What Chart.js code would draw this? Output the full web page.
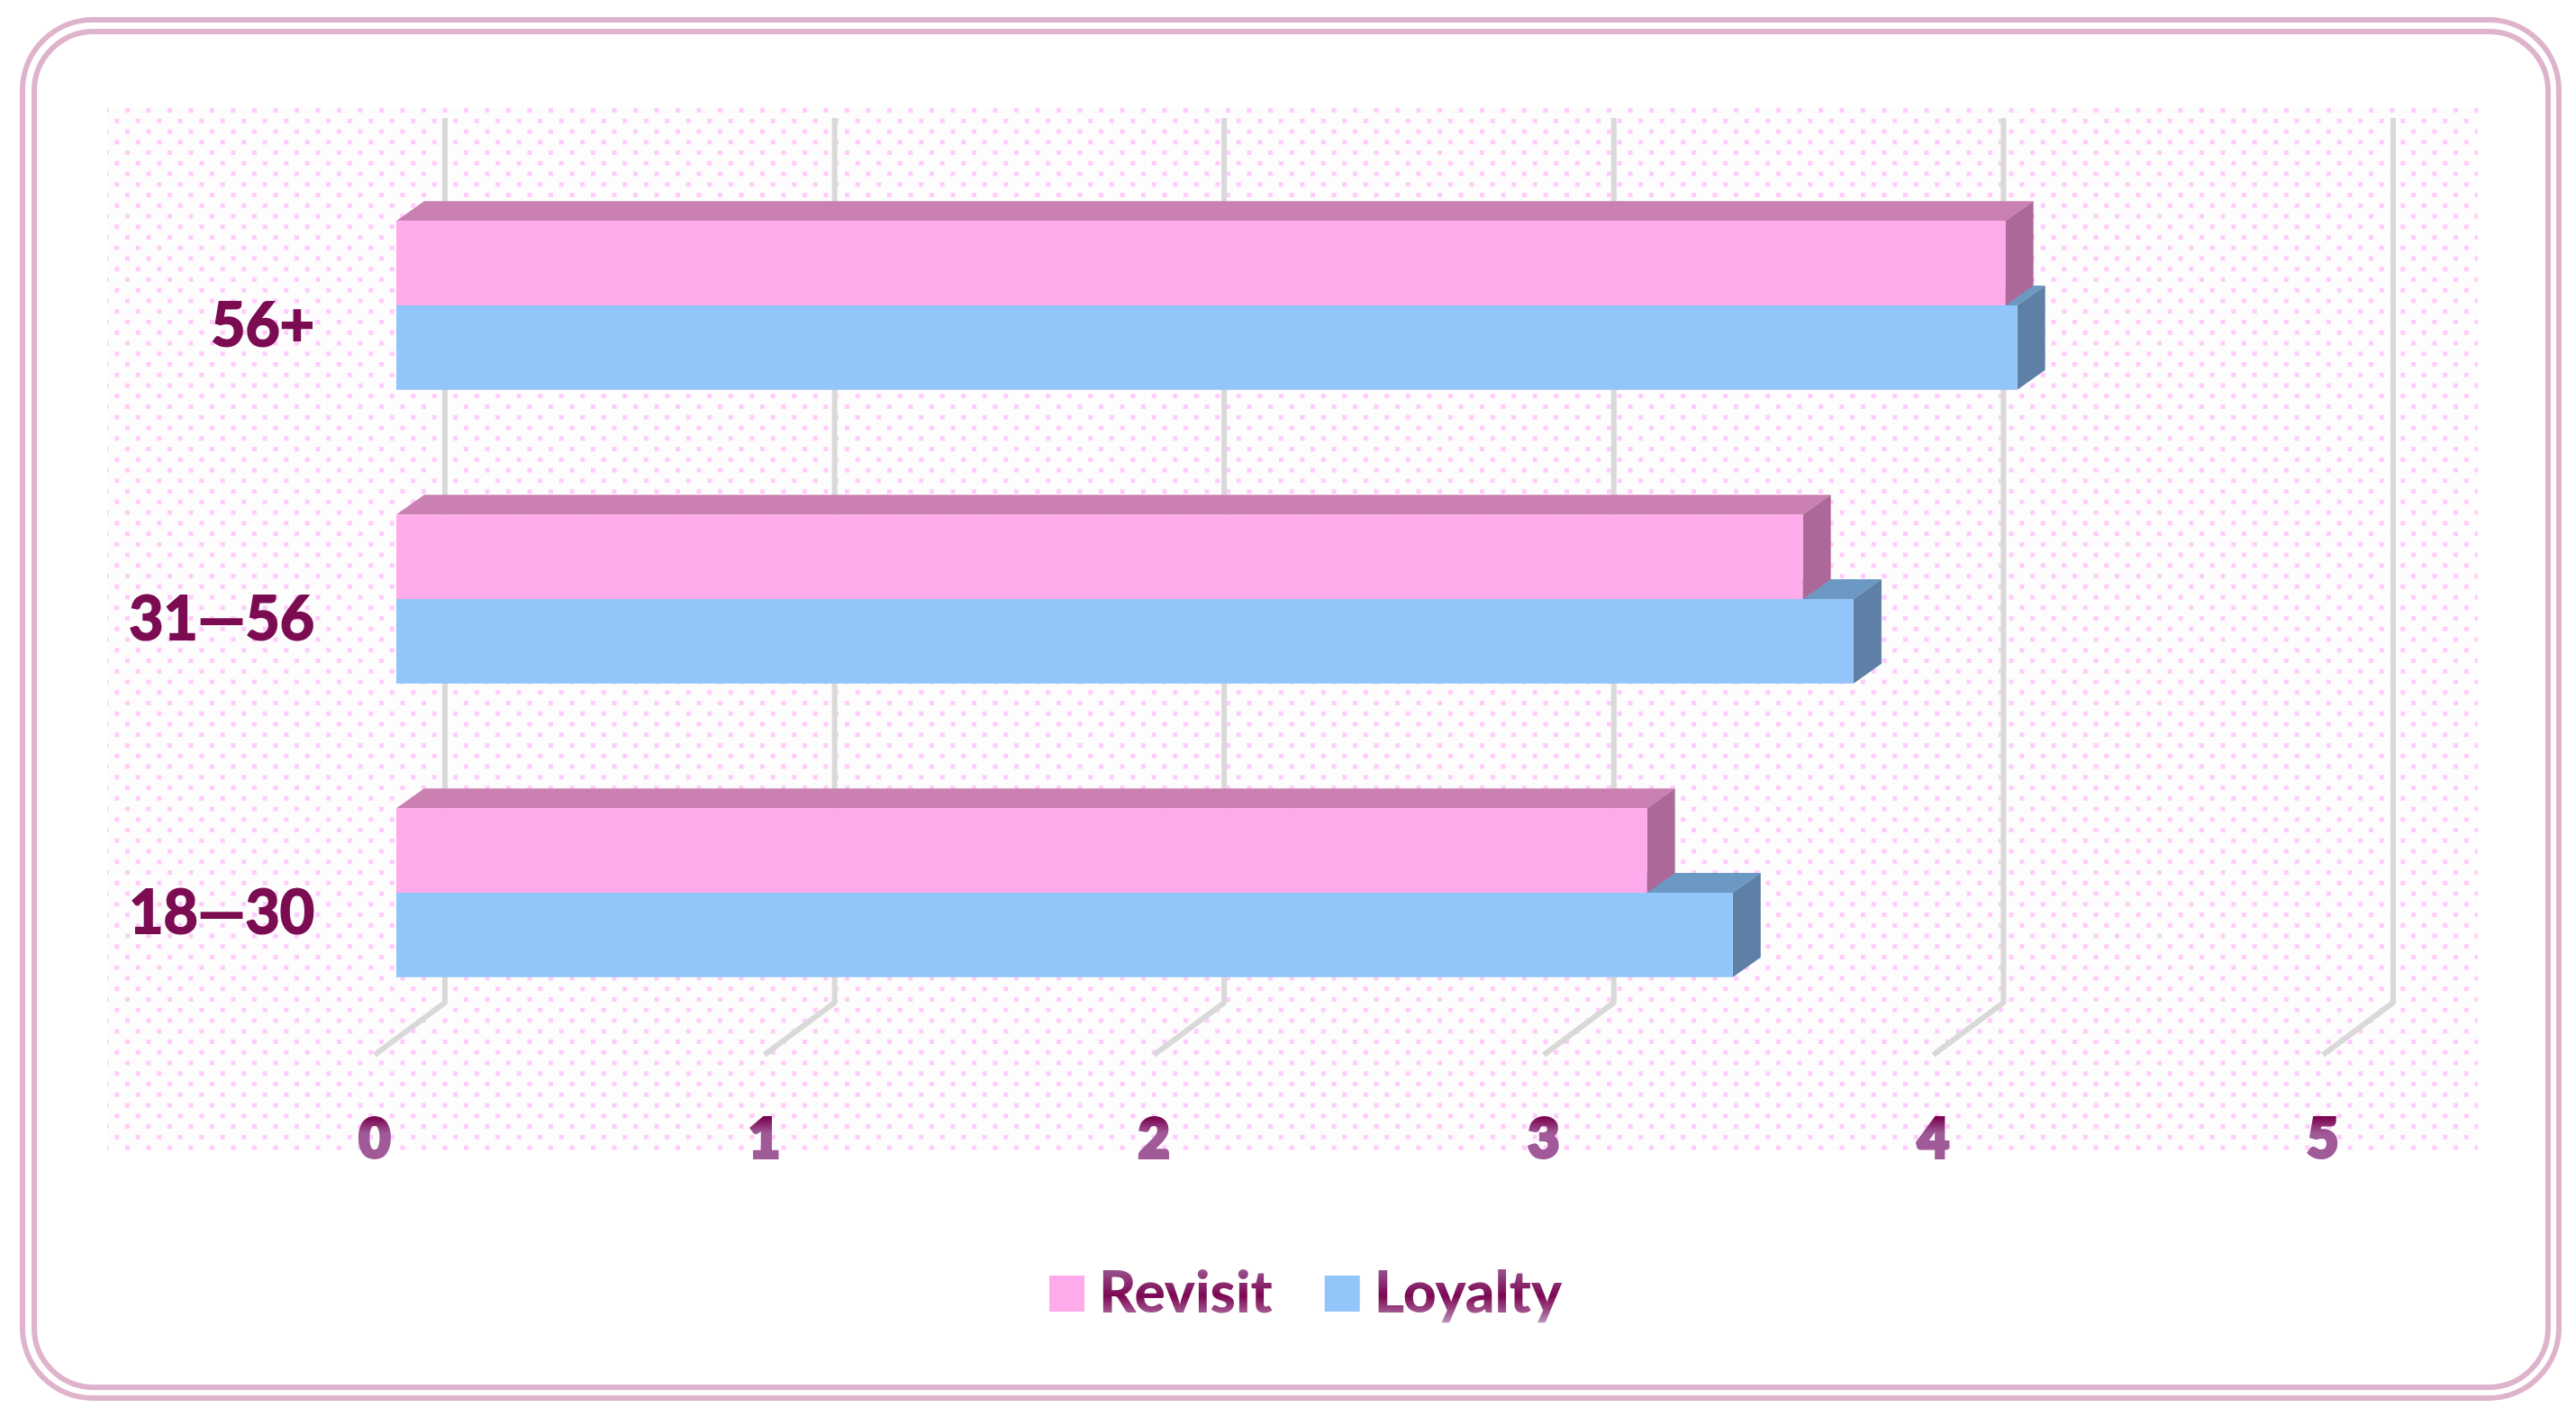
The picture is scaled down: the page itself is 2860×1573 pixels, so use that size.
<!DOCTYPE html>
<html>
<head>
<meta charset="utf-8">
<title>Revisit and Loyalty by age group</title>
<script src="https://cdn.jsdelivr.net/npm/chart.js@4/dist/chart.umd.min.js"></script>
<style>
  html, body { margin: 0; padding: 0; background: #fff; }
  #wrap { width: 2860px; height: 1573px; }
</style>
</head>
<body>
<div id="wrap"><canvas id="chart"></canvas></div>
<script>
// values
const ageGroups = ['56+', '31—56', '18—30'];
const revisit = [4.13, 3.61, 3.21];
const loyalty = [4.16, 3.74, 3.43];
const xTicks = [0, 1, 2, 3, 4, 5];

const depthX = 31;   // bar depth
const depthY = -22;
const wallX = 54;    // back wall offset from the bar plane
const floorX = -24;  // front of the floor
const wallTop = 131;
const wallBottom = 1113;
const floorBottom = 1171;

const canvas = document.getElementById('chart');
const ctx = canvas.getContext('2d');

// tick text gradient is relative to the label middle
const tickGrad = ctx.createLinearGradient(0, -28, 0, 28);
tickGrad.addColorStop(0, '#a05a98');
tickGrad.addColorStop(0.45, '#7c0752');
tickGrad.addColorStop(0.7, '#7c0752');
tickGrad.addColorStop(1, '#a05a98');

// legend text is drawn in page coordinates
const legendGrad = ctx.createLinearGradient(0, 1402, 0, 1478);
legendGrad.addColorStop(0, '#a0669f');
legendGrad.addColorStop(0.48, '#7c0752');
legendGrad.addColorStop(0.72, '#a2578f');
legendGrad.addColorStop(1, '#cfc6e2');

function dotPattern() {
  const tile = document.createElement('canvas');
  tile.width = 47;
  tile.height = 47;
  const t = tile.getContext('2d');
  t.fillStyle = '#fefdfe';
  t.fillRect(0, 0, 47, 47);
  t.fillStyle = '#ffccfd';
  for (let r = 0; r < 4; r++) {
    for (let c = 0; c < 2; c++) {
      t.fillRect(c * 23.5 + (r % 2) * 11.75, r * 11.75, 5, 5);
    }
  }
  const p = ctx.createPattern(tile, 'repeat');
  p.setTransform(new DOMMatrix().translate(-2, 26));
  return p;
}

function roundBox(c, x, y, w, h, r) {
  c.beginPath();
  c.roundRect(x, y, w, h, r);
  c.stroke();
}

const backdrop = {
  id: 'backdrop',
  afterLayout(chart) {
    // legend sits right of the plot centre
    chart.legend.left += 91;
    chart.legend.right += 91;
  },
  beforeDraw(chart) {
    const c = chart.ctx;
    c.save();
    c.fillStyle = '#ffffff';
    c.fillRect(0, 0, chart.width, chart.height);
    c.fillStyle = dotPattern();
    c.fillRect(119, 119, 2632, 1158);
    c.strokeStyle = '#deb3cb';
    c.lineWidth = 6;
    roundBox(c, 25, 22, 2816, 1530, 78);
    roundBox(c, 38, 35, 2791, 1505, 66);
    c.restore();
  }
};

const bars3d = {
  id: 'bars3d',
  beforeDatasetsDraw(chart) {
    const c = chart.ctx;
    const xScale = chart.scales.x;
    c.save();
    // walls and floor lines
    c.strokeStyle = '#d9d9d9';
    c.lineWidth = 6;
    c.lineJoin = 'round';
    xScale.ticks.forEach((tick, i) => {
      const px = xScale.getPixelForTick(i);
      c.beginPath();
      c.moveTo(px + wallX, wallTop);
      c.lineTo(px + wallX, wallBottom);
      c.lineTo(px + floorX, floorBottom);
      c.stroke();
    });
    // loyalty first so the revisit side sits over its top face
    const faces = [
      { set: 1, top: '#6c99c4', side: '#5e80a6' },
      { set: 0, top: '#cb80b2', side: '#ac6898' }
    ];
    faces.forEach(f => {
      chart.getDatasetMeta(f.set).data.forEach(bar => {
        const top = bar.y - bar.height / 2;
        const bottom = bar.y + bar.height / 2;
        c.fillStyle = f.top;
        c.beginPath();
        c.moveTo(bar.base, top);
        c.lineTo(bar.base + depthX, top + depthY);
        c.lineTo(bar.x + depthX, top + depthY);
        c.lineTo(bar.x, top);
        c.closePath();
        c.fill();
        c.fillStyle = f.side;
        c.beginPath();
        c.moveTo(bar.x, top);
        c.lineTo(bar.x + depthX, top + depthY);
        c.lineTo(bar.x + depthX, bottom + depthY);
        c.lineTo(bar.x, bottom);
        c.closePath();
        c.fill();
      });
    });
    c.restore();
  }
};

new Chart(canvas, {
  type: 'bar',
  data: {
    labels: ageGroups,
    datasets: [
      { label: 'Revisit', data: revisit, backgroundColor: '#ffabeb', borderWidth: 0 },
      { label: 'Loyalty', data: loyalty, backgroundColor: '#92c5f9', borderWidth: 0 }
    ]
  },
  options: {
    indexAxis: 'y',
    responsive: true,
    maintainAspectRatio: false,
    animation: false,
    categoryPercentage: 0.575,
    barPercentage: 1,
    layout: { padding: { left: 130, right: 257, top: 176, bottom: 95 } },
    plugins: {
      tooltip: { enabled: false },
      legend: {
        position: 'bottom',
        onClick: null,
        labels: {
          // small box plus a thick same-colour stroke, keeps the key close to the text
          boxWidth: 7,
          boxHeight: 8,
          padding: 74,
          color: legendGrad,
          font: { family: 'Lato', size: 64, weight: '900' },
          generateLabels(chart) {
            return Chart.defaults.plugins.legend.labels.generateLabels(chart).map(item => {
              item.strokeStyle = item.fillStyle;
              item.lineWidth = 32;
              return item;
            });
          }
        }
      }
    },
    scales: {
      x: {
        type: 'linear',
        min: 0,
        max: 5,
        afterBuildTicks(scale) { scale.ticks = xTicks.map(v => ({ value: v })); },
        afterFit(scale) { scale.height = 176; },
        grid: { display: false },
        border: { display: false },
        ticks: {
          padding: 68,
          labelOffset: floorX,
          maxRotation: 0,
          color: tickGrad,
          textStrokeColor: tickGrad,
          textStrokeWidth: 4,
          font: { family: 'Lato', size: 60, weight: '900' }
        }
      },
      y: {
        afterFit(scale) { scale.width = 310; },
        grid: { display: false },
        border: { display: false },
        ticks: {
          padding: 83,
          labelOffset: 24,
          color: '#7b0c52',
          textStrokeColor: '#7b0c52',
          textStrokeWidth: 2,
          font: { family: 'Lato', size: 66, weight: '700' }
        }
      }
    }
  },
  plugins: [backdrop, bars3d]
});
</script>
</body>
</html>
